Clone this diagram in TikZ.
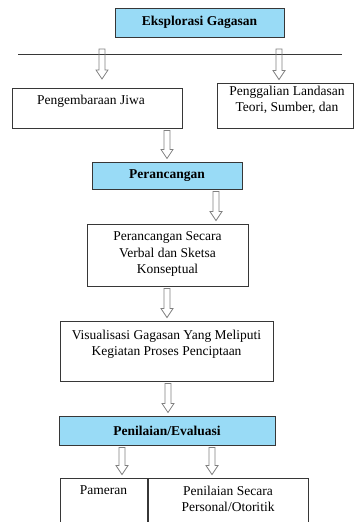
\documentclass[tikz,border=0pt]{standalone}
\usepackage{fontspec}
\setmainfont{Liberation Serif}
\newfontfamily\diagserif{Liberation Serif}
\usetikzlibrary{calc}
\definecolor{stageblue}{RGB}{153,219,246}
\definecolor{framegrey}{RGB}{55,55,55}
\newcommand{\diagfont}{\diagserif\fontsize{13.5}{16.5}\selectfont}
\tikzset{
 stage/.style={draw=framegrey, fill=stageblue, line width=1pt, inner sep=0pt, font=\diagfont\bfseries},
 frame/.style={draw=framegrey, line width=0.9pt, inner sep=0pt},
 boxtext/.style={anchor=north, align=center, inner sep=0pt, font=\diagfont},
 arrowline/.style={draw=gray, line width=0.8pt},
}
\newcommand{\stagebox}[5]{%
 \node[stage, minimum width=#3, minimum height=#4] (#1) at (#2) {#5};%
}
\newcommand{\textbox}[6]{%
 \node[frame, minimum width=#3, minimum height=#4] (#1) at (#2) {};%
 \node[boxtext] (#1-txt) at ($(#1.north)+(#5)$) {#6};%
}
\newcommand{\hollowarrow}[3]{%
 \draw[arrowline] let \p1=(#2), \p2=(#3) in
  ({#1pt-3pt},{\y1-2pt}) -- ({#1pt+3pt},{\y1-2pt}) -- ({#1pt+3pt},{\y2+12pt}) --
  ({#1pt+6pt},{\y2+12pt}) -- ({#1pt},{\y2+3pt}) -- ({#1pt-6pt},{\y2+12pt}) --
  ({#1pt-3pt},{\y2+12pt}) -- cycle;%
}

\begin{document}
\begin{tikzpicture}[x=1pt, y=-1pt]
 \useasboundingbox (0,0) rectangle (354,522);
 \clip (0,0) rectangle (354,522);
 \stagebox{eks}{199.5,22.5}{169}{29}{Eksplorasi Gagasan}
 \coordinate (ruleL) at (18,54);
 \coordinate (ruleR) at (342,54);
 \draw[frame] (ruleL) -- (ruleR);
 \coordinate (fork) at (0,47);
 \coordinate (rowtop) at (0,82);
 \textbox{jiwa}{97,108}{170}{40}{-6,7}{Pengembaraan Jiwa}
 \textbox{land}{285,105.5}{136}{45}{2,3}{Penggalian Landasan\\Teori, Sumber, dan}
 \stagebox{ran}{167,175.5}{150}{27}{Perancangan}
 \textbox{verbal}{167.5,255}{161}{62}{0,8}{Perancangan Secara\\Verbal dan Sketsa\\Konseptual}
 \textbox{visual}{166.5,351}{213}{60}{0,9}{Visualisasi Gagasan Yang Meliputi\\Kegiatan Proses Penciptaan}
 \stagebox{eval}{167,430.5}{216}{29}{Penilaian/Evaluasi}
 \textbox{pameran}{103.5,509}{87}{62}{0,8}{Pameran}
 \textbox{personal}{228,509}{160}{62}{0,8}{Penilaian Secara\\Personal/Otoritik}
 \hollowarrow{102}{fork}{rowtop}
 \hollowarrow{279}{fork}{land.north}
 \hollowarrow{167}{jiwa.south}{ran.north}
 \hollowarrow{216}{ran.south}{verbal.north}
 \hollowarrow{167}{verbal.south}{visual.north}
 \hollowarrow{168}{visual.south}{eval.north}
 \hollowarrow{122}{eval.south}{pameran.north}
 \hollowarrow{212}{eval.south}{personal.north}
\end{tikzpicture}
\end{document}
